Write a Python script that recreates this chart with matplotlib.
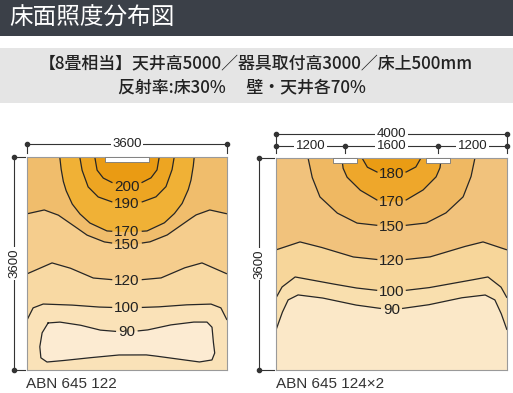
import numpy as np
import matplotlib
matplotlib.use("Agg")
from matplotlib import pyplot as plt
from matplotlib.patches import Rectangle

plt.rcParams['font.family'] = ['Noto Sans CJK JP', 'DejaVu Sans']

NUM_FONT = ['Liberation Sans Narrow', 'Liberation Sans', 'DejaVu Sans']

title = '床面照度分布図'
cond_line1 = '【8畳相当】天井高5000／器具取付高3000／床上500mm'
cond_line2 = '反射率:床30%　 壁・天井各70%'

# ---- left room: ABN 645 122 (3600 x 3600 mm), y measured from lamp wall
left_name = 'ABN 645 122'
left_w, left_h = 3600, 3600
left_lamps = [(1400, 2200)]

l200_x = [1220, 1260, 1370, 1550, 1800, 2050, 2230, 2340, 2380]
l200_y = [0, 220, 355, 440, 505, 440, 355, 220, 0]
l190_x = [950, 990, 1100, 1280, 1530, 1800, 2070, 2320, 2500, 2610, 2650]
l190_y = [0, 220, 505, 675, 760, 795, 760, 675, 505, 220, 0]
l170_x = [590, 610, 650, 700, 810, 950, 1130, 1440, 1800, 2160, 2470, 2650, 2790, 2900, 2950, 2990, 3010]
l170_y = [0, 180, 400, 560, 790, 960, 1115, 1250, 1270, 1250, 1115, 960, 790, 560, 400, 180, 0]
l150_x = [0, 310, 560, 770, 1080, 1390, 1800, 2210, 2520, 2830, 3040, 3290, 3600]
l150_y = [960, 895, 980, 1115, 1320, 1435, 1490, 1435, 1320, 1115, 980, 895, 960]
l120_x = [0, 450, 770, 1190, 1800, 2410, 2830, 3150, 3600]
l120_y = [1975, 1790, 1875, 2045, 2095, 2045, 1875, 1790, 1975]
l100_x = [0, 110, 290, 770, 1260, 1800, 2340, 2830, 3310, 3490, 3600]
l100_y = [2755, 2550, 2485, 2500, 2535, 2550, 2535, 2500, 2485, 2550, 2755]
l90_x = [380, 590, 950, 1310, 1760, 2160, 2570, 2990, 3240, 3330, 3350, 3380, 3330,
         3110, 2570, 2160, 1670, 1260, 770, 360, 250, 230, 270, 380]
l90_y = [2805, 2790, 2840, 2925, 2960, 2925, 2840, 2790, 2790, 2875, 3095, 3310, 3430,
         3465, 3395, 3345, 3345, 3380, 3430, 3465, 3395, 3210, 2975, 2805]

# ---- right room: ABN 645 124 x2 (4000 x 3600 mm)
right_name = 'ABN 645 124×2'
right_w, right_h = 4000, 3600
right_lamps = [(990, 1410), (2590, 3010)]
right_dims = [0, 1200, 2800, 4000]

r180_x = [1490, 1580, 1750, 2000, 2250, 2420, 2510]
r180_y = [0, 155, 240, 270, 240, 155, 0]
r170_x = [1140, 1160, 1230, 1455, 1750, 2000, 2250, 2545, 2770, 2840, 2860]
r170_y = [0, 170, 325, 545, 715, 745, 715, 545, 325, 170, 0]
r150_x = [555, 625, 760, 1060, 1400, 2000, 2600, 2940, 3240, 3375, 3445]
r150_y = [0, 325, 660, 935, 1105, 1170, 1105, 935, 660, 325, 0]
r120_x = [0, 415, 760, 1335, 2000, 2665, 3240, 3585, 4000]
r120_y = [1560, 1425, 1510, 1680, 1750, 1680, 1510, 1425, 1560]
r100_x = [0, 105, 330, 795, 1370, 2000, 2630, 3205, 3670, 3895, 4000]
r100_y = [2375, 2190, 2020, 2105, 2205, 2275, 2205, 2105, 2020, 2190, 2375]
r90_x = [0, 105, 210, 380, 795, 1370, 2000, 2630, 3205, 3620, 3790, 3895, 4000]
r90_y = [2920, 2630, 2410, 2325, 2375, 2495, 2580, 2495, 2375, 2325, 2410, 2630, 2920]

LINE = '#262626'
DIM = '#333333'


def contour_line(ax, xs, ys, label, half_gap):
    xs = np.asarray(xs, float)
    ys = np.asarray(ys, float)
    idx = np.arange(len(xs))
    t = np.linspace(0, len(xs) - 1, 600)
    xd = np.interp(t, idx, xs)
    yd = np.interp(t, idx, ys)
    lx = (xs.min() + xs.max()) / 2
    ly = yd[np.abs(xd - lx) < 60].max()
    mask = (np.abs(xd - lx) < half_gap) & (np.abs(yd - ly) < 150)
    xd[mask] = np.nan
    yd[mask] = np.nan
    ax.plot(xd, yd, color=LINE, lw=0.9, solid_capstyle='butt')
    ax.text(lx, ly, label, ha='center', va='center', fontsize=11,
            family=NUM_FONT, color='#222222')


def hdim(ax, x0, x1, y, label):
    ax.plot([x0, x1], [y, y], color=DIM, lw=0.8, clip_on=False)
    ax.text((x0 + x1) / 2, y, label, ha='center', va='center', fontsize=9.5,
            family=NUM_FONT, color='#222222', clip_on=False,
            bbox=dict(facecolor='white', edgecolor='none', pad=1.2))


def room(ax, w, h, lamps, fills_top, fills_bottom, closed, lines, bg):
    ax.set_xlim(0, w)
    ax.set_ylim(h, 0)
    ax.set_facecolor(bg)
    for xs, ys, c in fills_bottom:
        ax.fill_between(xs, ys, h, color=c, lw=0)
    for xs, ys, c in closed:
        ax.fill(xs, ys, color=c, lw=0)
    for xs, ys, c in fills_top:
        ax.fill(xs, ys, color=c, lw=0)
    for xs, ys, lab, gap in lines:
        contour_line(ax, xs, ys, lab, gap)
    for a, b in lamps:
        ax.add_patch(Rectangle((a, 0), b - a, 90, facecolor='white',
                               edgecolor='#777777', lw=0.6, zorder=5))
    ax.set_xticks([])
    ax.set_yticks([])
    for s in ax.spines.values():
        s.set_color('#9a9a9a')
        s.set_linewidth(0.8)


fig = plt.figure(figsize=(5.13, 3.93), dpi=100)

# header and condition box
bg = fig.add_axes([0, 0, 1, 1])
bg.set_xlim(0, 513)
bg.set_ylim(393, 0)
bg.axis('off')
bg.add_patch(Rectangle((0, 0), 513, 36, facecolor='#3b4048', edgecolor='none'))
bg.text(9, 18.5, title, color='white', fontsize=17, va='center', ha='left')
bg.add_patch(Rectangle((0, 48), 513, 55, facecolor='#e5e5e5', edgecolor='none'))
bg.text(256, 63, cond_line1, fontsize=12.2, fontweight='medium',
        ha='center', va='center', color='#222222')
bg.text(242, 87, cond_line2, fontsize=12.2, fontweight='medium',
        ha='center', va='center', color='#222222')

# left room
ax1 = fig.add_axes([27 / 513, 1 - 370 / 393, 200 / 513, 213 / 393])
room(ax1, left_w, left_h, left_lamps,
     fills_top=[(l170_x, l170_y, '#f0b136'), (l190_x, l190_y, '#eda522'),
                (l200_x, l200_y, '#ea9b13')],
     fills_bottom=[(l150_x, l150_y, '#f5cd8d'), (l120_x, l120_y, '#f8d9a3'),
                   (l100_x, l100_y, '#fae2b8')],
     closed=[(l90_x, l90_y, '#fcebd2')],
     lines=[(l200_x, l200_y, '200', 260), (l190_x, l190_y, '190', 260),
            (l170_x, l170_y, '170', 260), (l150_x, l150_y, '150', 260),
            (l120_x, l120_y, '120', 260), (l100_x, l100_y, '100', 260)],
     bg='#f0bd6c')
# the closed 90 line carries its label on the top edge
xs = np.asarray(l90_x, float)
ys = np.asarray(l90_y, float)
t = np.linspace(0, len(xs) - 1, 800)
xd = np.interp(t, np.arange(len(xs)), xs)
yd = np.interp(t, np.arange(len(ys)), ys)
mask = (np.abs(xd - 1800) < 200) & (yd < 3100)
xd[mask] = np.nan
yd[mask] = np.nan
ax1.plot(xd, yd, color=LINE, lw=0.9)
ax1.text(1800, 2950, '90', ha='center', va='center', fontsize=11,
         family=NUM_FONT, color='#222222')

# right room
ax2 = fig.add_axes([276 / 513, 1 - 370 / 393, 231 / 513, 212 / 393])
room(ax2, right_w, right_h, right_lamps,
     fills_top=[(r150_x, r150_y, '#efb862'), (r170_x, r170_y, '#eea72b'),
                (r180_x, r180_y, '#ea9c14')],
     fills_bottom=[(r120_x, r120_y, '#f7d69a'), (r100_x, r100_y, '#f9dfae'),
                   (r90_x, r90_y, '#fbe8c8')],
     closed=[],
     lines=[(r180_x, r180_y, '180', 240), (r170_x, r170_y, '170', 240),
            (r150_x, r150_y, '150', 240), (r120_x, r120_y, '120', 240),
            (r100_x, r100_y, '100', 240), (r90_x, r90_y, '90', 180)],
     bg='#f1c27c')

# dimension lines, left room
ax1.plot([0, 0], [-220, -70], color=DIM, lw=0.8, clip_on=False)
ax1.plot([left_w, left_w], [-220, -70], color=DIM, lw=0.8, clip_on=False)
hdim(ax1, 0, left_w, -220, '3600')
ax1.plot([0, left_w], [-220, -220], 'o', ms=3, color=DIM, clip_on=False)
ax1.plot([-234, -234], [0, left_h], color=DIM, lw=0.8, clip_on=False)
ax1.plot([-234, -40], [0, 0], color=DIM, lw=0.8, clip_on=False)
ax1.plot([-234, -40], [left_h, left_h], color=DIM, lw=0.8, clip_on=False)
ax1.plot([-234, -234], [0, left_h], 'o', ms=3, color=DIM, clip_on=False)
ax1.text(-234, left_h / 2, '3600', rotation=90, ha='center', va='center',
         fontsize=9.5, family=NUM_FONT, color='#222222', clip_on=False,
         bbox=dict(facecolor='white', edgecolor='none', pad=1.2))

# dimension lines, right room
for xv in [0, right_w]:
    ax2.plot([xv, xv], [-407, -85], color=DIM, lw=0.8, clip_on=False)
for xv in right_dims[1:-1]:
    ax2.plot([xv, xv], [-204, -85], color=DIM, lw=0.8, clip_on=False)
hdim(ax2, 0, right_w, -407, '4000')
ax2.plot([0, right_w], [-407, -407], 'o', ms=3, color=DIM, clip_on=False)
for a, b in zip(right_dims[:-1], right_dims[1:]):
    hdim(ax2, a, b, -204, str(b - a))
ax2.plot(right_dims, [-204] * len(right_dims), 'o', ms=3, color=DIM, clip_on=False)
ax2.plot([-294, -294], [0, right_h], color=DIM, lw=0.8, clip_on=False)
ax2.plot([-294, -40], [0, 0], color=DIM, lw=0.8, clip_on=False)
ax2.plot([-294, -40], [right_h, right_h], color=DIM, lw=0.8, clip_on=False)
ax2.plot([-294, -294], [0, right_h], 'o', ms=3, color=DIM, clip_on=False)
ax2.text(-294, right_h / 2, '3600', rotation=90, ha='center', va='center',
         fontsize=9.5, family=NUM_FONT, color='#222222', clip_on=False,
         bbox=dict(facecolor='white', edgecolor='none', pad=1.2))

# model names
bg.text(26, 384, left_name, fontsize=11, family=['Liberation Sans', 'DejaVu Sans'],
        va='center', ha='left', color='#333333')
bg.text(276, 384, right_name, fontsize=11, family=['Liberation Sans', 'DejaVu Sans'],
        va='center', ha='left', color='#333333')

fig.savefig('out.png', dpi=100)
